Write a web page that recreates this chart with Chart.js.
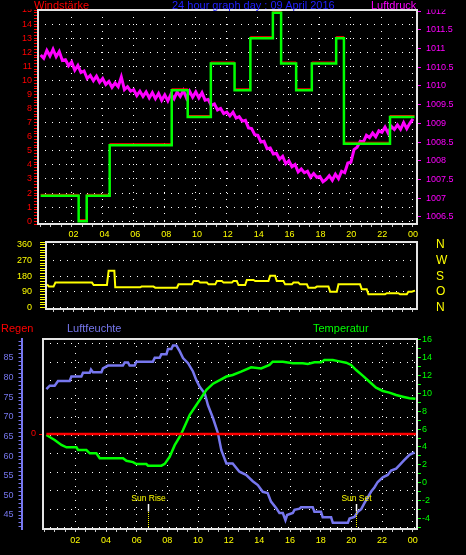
<!DOCTYPE html>
<html>
<head>
<meta charset="utf-8">
<script src="https://cdn.jsdelivr.net/npm/chart.js@4.4.0/dist/chart.umd.min.js"></script>
<style>
html, body { margin: 0; padding: 0; background: #000; }
body { width: 466px; height: 555px; position: relative; overflow: hidden; font-family: "Liberation Sans", Arial, sans-serif; }
canvas { position: absolute; left: 0; }
.t { position: absolute; font-size: 11px; line-height: 11px; white-space: nowrap; }
</style>
</head>
<body>
<canvas id="c1" width="466" height="230" style="top:0"></canvas>
<canvas id="c2" width="466" height="90" style="top:226px"></canvas>
<canvas id="c3" width="466" height="239" style="top:316px"></canvas>

<div class="t" style="left:34px;top:0;color:#ff0000">Windstärke</div>
<div class="t" style="left:172px;top:0;color:#2121ff">24 hour graph day : 09 April 2016</div>
<div class="t" style="left:371px;top:0;color:#ff00ff">Luftdruck</div>
<div class="t" style="left:1px;top:322.5px;color:#ff0000">Regen</div>
<div class="t" style="left:67px;top:322.5px;color:#7777ee">Luftfeuchte</div>
<div class="t" style="left:313px;top:322.5px;color:#00ff00">Temperatur</div>

<script>
// ---- data ----
// x tick labels (hours)
const labelHours = [2, 4, 6, 8, 10, 12, 14, 16, 18, 20, 22, 24];
const labelText = ['02', '04', '06', '08', '10', '12', '14', '16', '18', '20', '22', '00'];

// wind speed, step series: each value holds until the next time
const windHours = [0.0, 2.45, 2.97, 4.45, 8.45, 9.48, 10.97, 12.5, 13.52, 14.97, 15.5, 16.47, 17.48, 19.05, 19.55, 22.52, 24.1];
const windSpeed = [1.8, 0, 1.8, 5.4, 9.3, 7.4, 11.2, 9.3, 13.0, 14.8, 11.2, 9.3, 11.2, 13.0, 5.5, 7.4, 7.4];

// air pressure, one reading every 12 minutes from 00:00
const pressStart = 0;
const pressStep = 0.2;
const pressure = [
  1010.83, 1010.74, 1010.95, 1010.80, 1010.98,
  1010.78, 1010.92, 1010.68, 1010.70, 1010.54,
  1010.64, 1010.42, 1010.55, 1010.36, 1010.40,
  1010.20, 1010.28, 1010.14, 1010.26, 1010.10,
  1010.20, 1010.04, 1010.12, 1009.96, 1010.08,
  1009.98, 1010.24, 1009.90, 1009.98, 1009.86,
  1009.90, 1009.74, 1009.86, 1009.72, 1009.84,
  1009.68, 1009.82, 1009.66, 1009.80, 1009.62,
  1009.76, 1009.60, 1009.78, 1009.66, 1009.84,
  1009.72, 1009.88, 1009.68, 1009.86, 1009.70,
  1009.84, 1009.68, 1009.82, 1009.62, 1009.64,
  1009.48, 1009.52, 1009.36, 1009.40, 1009.26,
  1009.30, 1009.20, 1009.30, 1009.14, 1009.18,
  1009.06, 1009.08, 1008.88, 1008.86, 1008.70,
  1008.68, 1008.50, 1008.52, 1008.32, 1008.34,
  1008.18, 1008.20, 1008.04, 1008.12, 1007.92,
  1008.00, 1007.84, 1007.90, 1007.70, 1007.78,
  1007.68, 1007.72, 1007.56, 1007.66, 1007.56,
  1007.58, 1007.44, 1007.50, 1007.60, 1007.48,
  1007.64, 1007.52, 1007.72, 1007.68, 1007.94,
  1007.96, 1008.30, 1008.36, 1008.52, 1008.50,
  1008.68, 1008.62, 1008.74, 1008.64, 1008.80,
  1008.76, 1008.90, 1008.74, 1008.92, 1008.84,
  1008.96, 1008.84, 1009.02, 1008.86, 1009.00,
  1009.12
];

// wind direction (degrees)
const dirHours = [0.28, 0.40, 0.70, 0.82, 3.19, 3.30, 4.16, 4.27, 4.64, 4.70, 6.32, 6.40, 7.18, 7.29, 8.70, 8.80,
  9.67, 9.77, 10.10, 10.20, 10.64, 10.75, 11.18, 11.29, 11.61, 11.72, 12.26, 12.36, 12.58, 12.69, 13.12, 13.23,
  13.66, 13.77, 14.63, 14.74, 15.06, 15.17, 15.60, 15.71, 16.15, 16.25, 16.57, 16.68, 17.12, 17.22, 17.66, 17.77,
  18.52, 18.63, 19.06, 19.17, 20.57, 20.68, 21.00, 21.11, 22.19, 22.30, 23.05, 23.16, 23.60, 23.70, 23.92, 24.13];
const dirDeg = [133, 120, 120, 143, 143, 129, 129, 211, 211, 116, 116, 120, 120, 114, 114, 133,
  133, 152, 152, 143, 143, 133, 133, 152, 152, 143, 143, 152, 152, 129, 129, 158,
  158, 152, 152, 183, 183, 152, 152, 133, 133, 143, 143, 133, 133, 114, 114, 120,
  120, 91, 91, 133, 133, 105, 105, 76, 76, 82, 82, 76, 76, 91, 91, 97];
const dirTicks = [0, 90, 180, 270, 360];
const dirNames = ['N', 'O', 'S', 'W', 'N'];

// humidity (%)
const humHours = [0.11, 0.33, 0.65, 0.87, 1.63, 1.74, 2.39, 2.50, 2.94, 3.02, 3.15, 3.70, 3.80, 4.13, 5.10, 5.22,
  5.43, 5.54, 5.87, 5.98, 7.06, 7.18, 7.50, 7.61, 7.94, 8.04, 8.26, 8.37, 8.59, 8.81, 9.02, 9.35,
  9.67, 9.89, 10.11, 10.44, 10.65, 10.98, 11.30, 11.52, 11.85, 12.26, 12.70, 13.13, 13.57, 13.90, 14.22, 14.54,
  14.76, 15.09, 15.31, 15.53, 15.70, 15.81, 16.18, 16.29, 16.62, 16.72, 17.48, 17.59, 18.02, 18.13, 18.68, 18.79,
  19.77, 19.88, 20.20, 20.42, 20.64, 20.85, 21.07, 21.28, 21.50, 21.72, 22.05, 22.37, 22.59, 22.92, 23.14, 23.46,
  23.79, 24.12];
const humidity = [77.0, 77.9, 77.9, 79.1, 79.1, 80.2, 80.2, 81.2, 81.2, 82.0, 81.3, 81.3, 82.3, 83.0, 83.0, 83.8,
  83.8, 83.0, 83.0, 84.0, 84.0, 85.0, 85.0, 85.9, 85.9, 87.2, 87.2, 88.1, 88.1, 86.6, 84.9, 83.6,
  81.5, 79.3, 77.6, 75.9, 72.9, 69.6, 65.8, 61.5, 58.1, 58.1, 56.0, 55.2, 53.6, 52.6, 50.9, 50.6,
  48.4, 46.8, 45.5, 45.5, 43.7, 45.0, 45.5, 46.3, 46.6, 47.0, 47.0, 45.8, 45.8, 44.4, 44.4, 43.0,
  43.0, 44.1, 44.5, 45.8, 46.5, 48.0, 49.5, 50.9, 52.0, 53.4, 54.6, 55.2, 56.3, 56.8, 57.7, 59.0,
  60.3, 60.9];

// temperature (°C)
const tempHours = [0.11, 0.65, 1.09, 1.42, 2.07, 2.18, 2.72, 2.94, 3.37, 3.59, 5.11, 5.33, 5.76, 5.98, 6.63, 6.74,
  7.61, 7.83, 8.15, 8.48, 8.81, 9.02, 9.46, 10.11, 10.55, 10.98, 11.42, 11.85, 12.26, 12.81, 13.46, 14.11,
  14.66, 14.87, 15.53, 16.18, 16.83, 17.16, 17.59, 18.02, 18.24, 18.79, 19.22, 19.66, 19.98, 20.31, 20.74, 21.18,
  21.61, 22.05, 22.48, 22.92, 23.35, 23.79, 24.18];
const temperature = [5.34, 4.78, 4.22, 3.96, 3.96, 3.66, 3.66, 3.29, 3.29, 2.73, 2.73, 2.45, 2.30, 2.09, 2.09, 1.90,
  1.90, 2.10, 2.90, 4.20, 5.15, 5.90, 7.60, 9.27, 10.40, 11.10, 11.50, 11.90, 12.07, 12.44, 12.94, 12.80,
  13.20, 13.57, 13.57, 13.40, 13.40, 13.30, 13.50, 13.50, 13.76, 13.76, 13.60, 13.45, 13.20, 12.63, 12.00, 11.32,
  10.65, 10.28, 10.10, 9.83, 9.64, 9.46, 9.40];

// rain
const rainHours = [0.11, 24.28];
const rain = [0, 0];

// sun rise / sun set
const sunTimes = [6.72, 20.28];
const sunLabels = ['Sun Rise', 'Sun Set'];

// ---- helpers ----
Chart.defaults.font.family = '"Liberation Sans", Arial, sans-serif';
Chart.defaults.font.size = 9;
Chart.defaults.animation = false;
Chart.defaults.plugins.legend.display = false;
Chart.defaults.plugins.tooltip.enabled = false;
Chart.defaults.elements.point.radius = 0;
Chart.defaults.elements.line.tension = 0;

const GRID = '#ffffff';
const NONE = 'rgba(0,0,0,0)';
const near = (a, b) => Math.abs(a - b) < 1e-6;
const pts = (xs, ys) => xs.map((x, i) => ({ x, y: ys[i] }));
const pressHours = pressure.map((_, i) => pressStart + i * pressStep);

// fixed axis sizes; drop the label overhang padding so the plot areas land where they should
const fixW = w => s => { s.width = w; s.paddingTop = 0; s.paddingBottom = 0; };
const fixH = h => s => { s.height = h; s.paddingLeft = 0; s.paddingRight = 0; };

// small ticks every 40 minutes
const minorHours = [];
for (let k = 0; k <= 37; k++) minorHours.push(k * 2 / 3);

function hourAxis(min, max, o) {
  return {
    type: 'linear', min, max,
    position: o.position || 'bottom',
    afterBuildTicks: s => { s.ticks = minorHours.filter(v => v >= min && v <= max).map(v => ({ value: v })); },
    afterFit: fixH(o.height),
    ticks: {
      display: !!o.labels, autoSkip: false, maxRotation: 0, color: '#ffff00', padding: o.padding || 0,
      callback: v => { const i = labelHours.findIndex(h => near(h, v)); return i < 0 ? '' : labelText[i]; }
    },
    grid: {
      color: c => (o.vgrid && c.tick && labelHours.some(h => near(h, c.tick.value))) ? GRID : NONE,
      drawOnChartArea: !!o.vgrid, drawTicks: o.ticks !== false, tickLength: 3, tickColor: '#c8c8c8'
    },
    border: { display: false, dash: [1, 6] }
  };
}

const framePlugin = {
  id: 'frame',
  afterDraw(chart) {
    const { ctx, chartArea: a } = chart;
    ctx.save();
    ctx.strokeStyle = '#e4e4e4';
    ctx.lineWidth = 2;
    ctx.strokeRect(a.left, a.top, a.right - a.left, a.bottom - a.top);
    ctx.restore();
  }
};

// top labels are cut off by the title band
const maskPlugin = {
  id: 'mask',
  afterDraw(chart) {
    const { ctx, chartArea: a, width } = chart;
    ctx.save();
    ctx.fillStyle = '#000';
    ctx.fillRect(0, 0, a.left - 1, 9.5);
    ctx.fillRect(a.right + 1, 0, width - a.right, 9.5);
    ctx.restore();
  }
};

// red wind line sits just above the green one
const shiftPlugin = {
  id: 'shift',
  beforeDatasetDraw(chart, args) {
    const d = chart.data.datasets[args.index];
    if (d.shiftY) { chart.ctx.save(); chart.ctx.translate(0, d.shiftY); }
  },
  afterDatasetDraw(chart, args) {
    if (chart.data.datasets[args.index].shiftY) chart.ctx.restore();
  }
};

const sunPlugin = {
  id: 'sun',
  afterDatasetsDraw(chart) {
    const { ctx, chartArea: a } = chart;
    const x = chart.scales.x;
    sunTimes.forEach((h, i) => {
      const px = Math.round(x.getPixelForValue(h)) + 0.5;
      ctx.save();
      ctx.fillStyle = '#ffff00';
      ctx.font = '8.5px "Liberation Sans", Arial, sans-serif';
      ctx.textAlign = 'center';
      ctx.fillText(sunLabels[i], px, a.bottom - 28.5);
      ctx.strokeStyle = '#ffffff';
      ctx.lineWidth = 1.5;
      ctx.beginPath(); ctx.moveTo(px, a.bottom - 25); ctx.lineTo(px, a.bottom - 17.5); ctx.stroke();
      ctx.strokeStyle = '#ffff00';
      ctx.lineWidth = 1;
      ctx.setLineDash([1, 1]);
      ctx.beginPath(); ctx.moveTo(px, a.bottom - 17); ctx.lineTo(px, a.bottom); ctx.stroke();
      ctx.restore();
    });
  }
};

// ---- panel 1: wind speed + pressure ----
new Chart(document.getElementById('c1'), {
  type: 'line',
  data: {
    datasets: [
      { data: pts(windHours, windSpeed), yAxisID: 'yWind', borderColor: '#00ff00', borderWidth: 2.5, stepped: 'before' },
      { data: pts(windHours, windSpeed), yAxisID: 'yWind', borderColor: '#ff0000', borderWidth: 1, stepped: 'before', shiftY: -1.5 },
      { data: pts(pressHours, pressure), yAxisID: 'yPress', borderColor: '#ff00ff', borderWidth: 3 }
    ]
  },
  options: {
    responsive: false,
    layout: { padding: { top: 10, left: 0, right: 0, bottom: 0 } },
    scales: {
      x: hourAxis(-0.17, 24.26, { height: 6, vgrid: true }),
      yWind: {
        position: 'left', min: -0.2, max: 15,
        afterFit: fixW(38),
        ticks: {
          stepSize: 0.2, autoSkip: false, includeBounds: false, color: '#ff0000', padding: 2,
          callback: v => near(v, Math.round(v)) ? String(Math.round(v)) : ''
        },
        grid: { color: c => near(c.tick.value, Math.round(c.tick.value)) ? GRID : NONE, tickColor: '#ff0000', tickLength: 4 },
        border: { display: false, dash: [1, 6] }
      },
      yPress: {
        position: 'right', min: 1006.31, max: 1012.03,
        afterFit: fixW(49),
        ticks: {
          stepSize: 0.5, autoSkip: false, includeBounds: false, color: '#ff00ff', padding: 5,
          callback: v => near(v, Math.round(v)) ? String(Math.round(v)) : v.toFixed(1)
        },
        grid: { drawOnChartArea: false, tickColor: '#ff00ff', tickLength: 4 },
        border: { display: false }
      }
    }
  },
  plugins: [shiftPlugin, maskPlugin, framePlugin]
});

// ---- panel 2: wind direction ----
new Chart(document.getElementById('c2'), {
  type: 'line',
  data: {
    datasets: [
      { data: pts(dirHours, dirDeg), yAxisID: 'yDir', borderColor: '#ffff00', borderWidth: 2 }
    ]
  },
  options: {
    responsive: false,
    layout: { padding: 0 },
    scales: {
      xTop: hourAxis(0.21, 24.26, { position: 'top', height: 16, labels: true, ticks: false, padding: 2 }),
      x: hourAxis(0.21, 24.26, { height: 7 }),
      yDir: {
        position: 'left', min: -9, max: 377,
        afterFit: fixW(46),
        ticks: {
          stepSize: 15, autoSkip: false, includeBounds: false, color: '#ffff00', padding: 8,
          callback: v => v % 90 === 0 ? String(v) : ''
        },
        grid: { color: c => c.tick.value % 90 === 0 ? GRID : NONE, tickColor: '#ffff00', tickLength: 6 },
        border: { display: false, dash: [1, 6] }
      },
      yName: {
        position: 'right', min: -9, max: 377,
        afterFit: fixW(49),
        afterBuildTicks: s => { s.ticks = dirTicks.map(v => ({ value: v })); },
        ticks: { autoSkip: false, color: '#ffff00', padding: 19, font: { size: 12 }, callback: v => dirNames[dirTicks.indexOf(v)] },
        grid: { display: false, drawTicks: false },
        border: { display: false }
      }
    }
  },
  plugins: [framePlugin]
});

// ---- panel 3: rain, humidity, temperature ----
new Chart(document.getElementById('c3'), {
  type: 'line',
  data: {
    datasets: [
      { data: pts(rainHours, rain), yAxisID: 'yRain', borderColor: '#ff0000', borderWidth: 2.5 },
      { data: pts(tempHours, temperature), yAxisID: 'yTemp', borderColor: '#00ff00', borderWidth: 2.5 },
      { data: pts(humHours, humidity), yAxisID: 'yHum', borderColor: '#7777ee', borderWidth: 2.5 }
    ]
  },
  options: {
    responsive: false,
    layout: { padding: { top: 23, left: 0, right: 0, bottom: 0 } },
    scales: {
      x: hourAxis(-0.11, 24.28, { height: 26, labels: true, padding: 3.5, vgrid: true }),
      yHum: {
        position: 'left', weight: 2, min: 41.44, max: 89.76,
        afterFit: fixW(22),
        ticks: {
          stepSize: 1, autoSkip: false, includeBounds: false, color: '#7777ee', padding: 5,
          callback: v => (v % 5 === 0 && v >= 45 && v <= 85) ? String(v) : ''
        },
        grid: { drawOnChartArea: false, tickColor: '#7777ee', tickLength: 3.5 },
        border: { display: true, color: '#7777ee', width: 2 }
      },
      yRain: {
        position: 'left', weight: 1, min: -1, max: 1,
        afterFit: fixW(21),
        afterBuildTicks: s => { s.ticks = [{ value: 0 }]; },
        ticks: { color: '#ff0000', padding: 3, callback: v => String(v) },
        grid: { drawOnChartArea: false, tickColor: '#ff0000', tickLength: 4 },
        border: { display: false }
      },
      yTemp: {
        position: 'right', weight: 1, min: -5.2, max: 16.11,
        afterFit: fixW(49),
        ticks: {
          stepSize: 1, autoSkip: false, includeBounds: false, color: '#00ff00', padding: 1,
          callback: v => (v % 2 === 0 && v >= -4) ? String(v) : ''
        },
        grid: { drawOnChartArea: false, tickColor: '#00ff00', tickLength: 4 },
        border: { display: false }
      },
      yGrid: {
        position: 'right', weight: 0, min: -0.09, max: 10.27,
        afterFit: fixW(0),
        ticks: { display: false, stepSize: 1, includeBounds: false },
        grid: { color: GRID, drawTicks: false },
        border: { display: false, dash: [1, 6] }
      }
    }
  },
  plugins: [sunPlugin, framePlugin]
});
</script>
</body>
</html>
